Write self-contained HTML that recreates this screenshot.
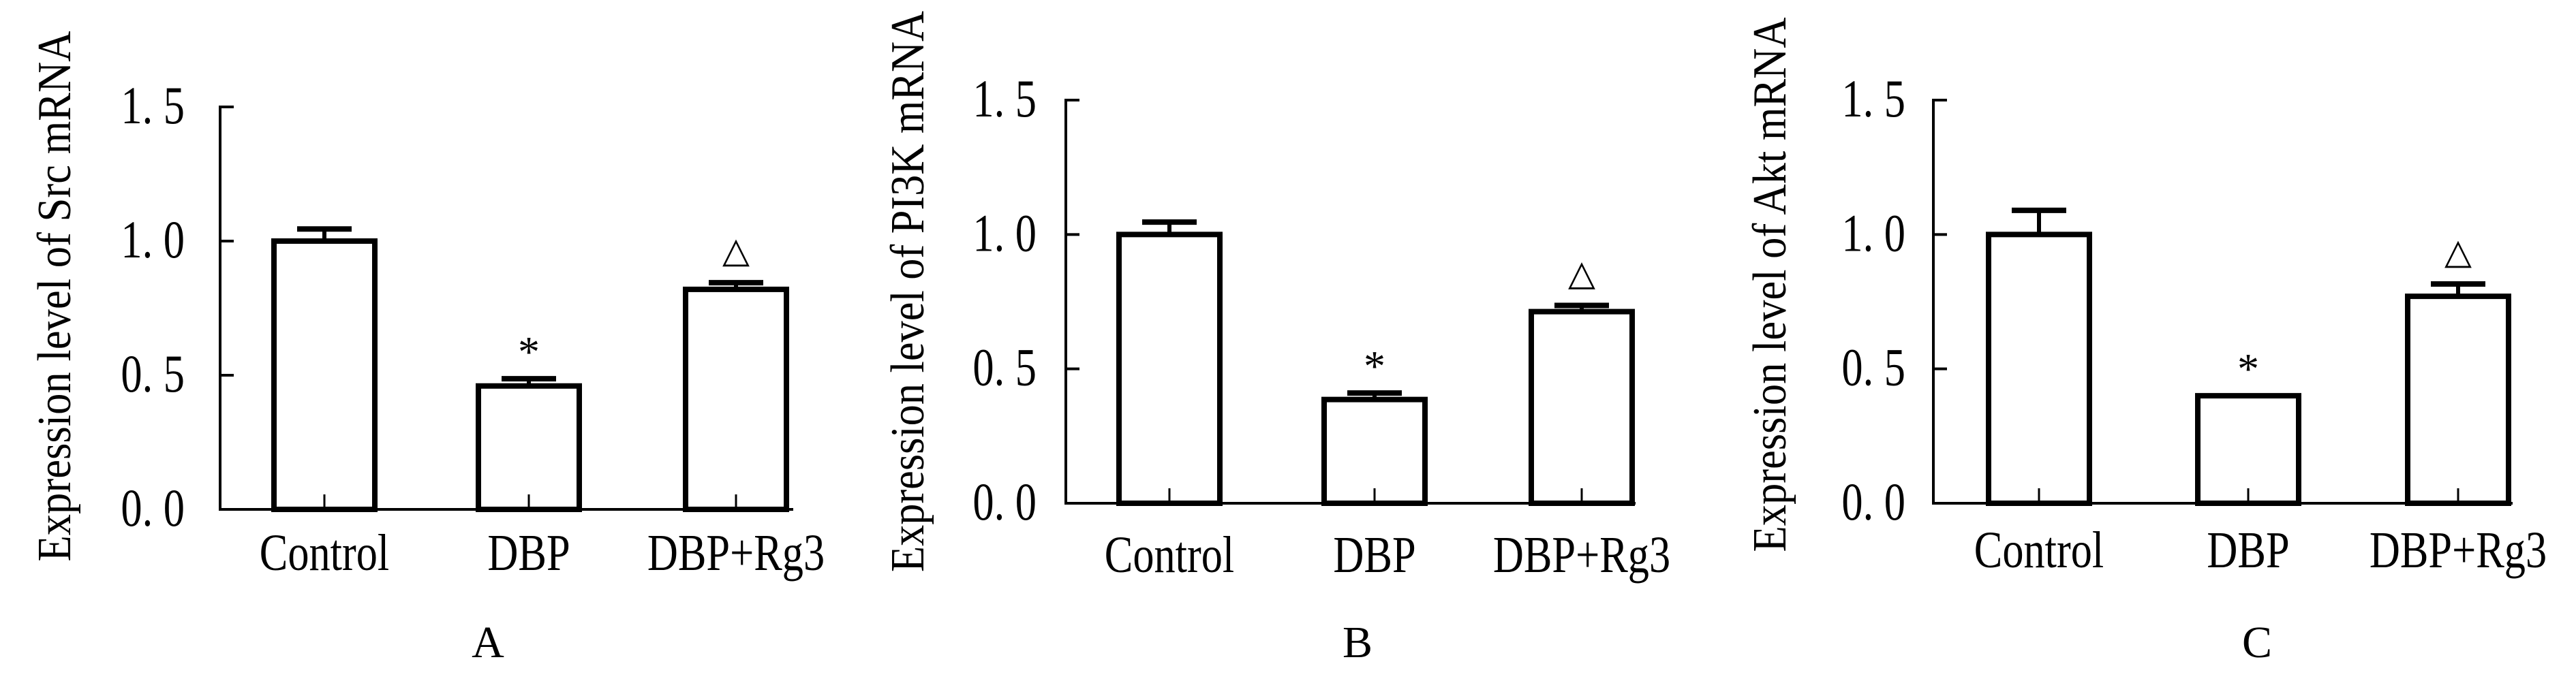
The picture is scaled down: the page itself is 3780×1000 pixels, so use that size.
<!DOCTYPE html>
<html><head><meta charset="utf-8"><style>
html,body{margin:0;padding:0;background:#fff;}
svg{display:block;}
text{font-family:"Liberation Serif","Times New Roman",serif;fill:#000;}
</style></head><body>
<svg id="fig" width="3780" height="1000" viewBox="0 0 3780 1000" xmlns="http://www.w3.org/2000/svg"></svg>
<script>
const categories = ["Control", "DBP", "DBP+Rg3"];
const ticks = [0, 0.5, 1.0, 1.5];
const tickLabels = ["0. 0", "0. 5", "1. 0", "1. 5"];
const panelLetters = ["A", "B", "C"];
const yTitles = ["Expression level of Src mRNA", "Expression level of PI3K mRNA", "Expression level of Akt mRNA"];
const srcMean = [1.0, 0.46, 0.82];
const srcErr = [0.045, 0.027, 0.025];
const pi3kMean = [1.0, 0.386, 0.713];
const pi3kErr = [0.046, 0.024, 0.023];
const aktMean = [1.0, 0.40, 0.77];
const aktErr = [0.09, 0.0, 0.046];
const marks = ["", "*", "\u25B3"];

const means = [srcMean, pi3kMean, aktMean];
const errs = [srcErr, pi3kErr, aktErr];
const geom = [
  {ax:323, y0:748, y15:157, end:1164, cx:[476,776,1080], tickR:271, catY:837, letX:716, titleX:103, titleY:435, titleL:779},
  {ax:1564, y0:739, y15:147, end:2400, cx:[1716,2017,2321], tickR:1521, catY:840, letX:1992, titleX:1355, titleY:428, titleL:824},
  {ax:2837, y0:739, y15:147, end:3687, cx:[2992,3299,3607], tickR:2796, catY:833, letX:3312, titleX:2620, titleY:418, titleL:785}
];
const NS = "http://www.w3.org/2000/svg";
const svg = document.getElementById("fig");
const FONT = '"Liberation Serif","Times New Roman",serif';
function mk(tag, attrs, parent){
  const e = document.createElementNS(NS, tag);
  for (const k in attrs) e.setAttribute(k, attrs[k]);
  if (tag === "text") e.setAttribute("font-family", FONT);
  (parent||svg).appendChild(e);
  return e;
}
function condense(t, f){
  const w = t.getComputedTextLength();
  if (w > 0) { t.setAttribute("textLength", w * f); t.setAttribute("lengthAdjust", "spacingAndGlyphs"); }
}
geom.forEach((g, p) => {
  const ys = v => g.y0 - (v / 1.5) * (g.y0 - g.y15);
  const grp = mk("g", {});
  
  
  const yax = mk("line", {x1:g.ax, y1:ys(1.5)-2, x2:g.ax, y2:g.y0+2, stroke:"#000", "stroke-width":4}, grp);
  
  
  ticks.forEach((t, i) => {
    const tk = mk("line", {x1:g.ax, y1:ys(t), x2:g.ax+20, y2:ys(t), stroke:"#000", "stroke-width":4}, grp);
    
    
    const tl = mk("text", {x:g.tickR, y:ys(t)+24, "font-size":78, "text-anchor":"end"}, grp);
    tl.textContent = tickLabels[i];
    
    
    condense(tl, 0.8);
  });
  const yt = mk("text", {x:0, y:0, "font-size":70, "text-anchor":"middle", textLength:g.titleL, lengthAdjust:"spacingAndGlyphs", transform:`translate(${g.titleX},${g.titleY}) rotate(-90)`}, grp);
  yt.textContent = yTitles[p];
  
  
  const bw = 148;
  categories.forEach((c, i) => {
    const v = means[p][i], e = errs[p][i], cx = g.cx[i];
    if (e > 0) {
      const el = mk("line", {x1:cx, y1:ys(v), x2:cx, y2:ys(v+e), stroke:"#000", "stroke-width":6}, grp);
      
      
      const cap = mk("line", {x1:cx-40, y1:ys(v+e), x2:cx+40, y2:ys(v+e), stroke:"#000", "stroke-width":8}, grp);
      
      
    }
    const r = mk("rect", {x:cx-bw/2, y:ys(v), width:bw, height:g.y0-ys(v), fill:"#fff", stroke:"#000", "stroke-width":8}, grp);
    
    
    const bt = mk("line", {x1:cx, y1:g.y0-22, x2:cx, y2:g.y0, stroke:"#000", "stroke-width":3}, grp);
    
    
    const cl = mk("text", {x:cx, y:g.catY, "font-size":76, "text-anchor":"middle"}, grp);
    cl.textContent = c;
    
    
    condense(cl, 0.82);
    if (marks[i]) {
      const my = ys(v+e) - 48;
      const m = mk("text", {x:cx, y: marks[i] === "*" ? my+30 : my+18, "font-size": marks[i] === "*" ? 64 : 52, "text-anchor":"middle"}, grp);
      m.textContent = marks[i];
      
      
    }
  });
  const xax = mk("line", {x1:g.ax-2, y1:g.y0, x2:g.end, y2:g.y0, stroke:"#000", "stroke-width":4}, grp);
  
  
  const lt = mk("text", {x:g.letX, y:965, "font-size":66, "text-anchor":"middle"}, grp);
  lt.textContent = panelLetters[p];
  
  
});
</script>
</body></html>
